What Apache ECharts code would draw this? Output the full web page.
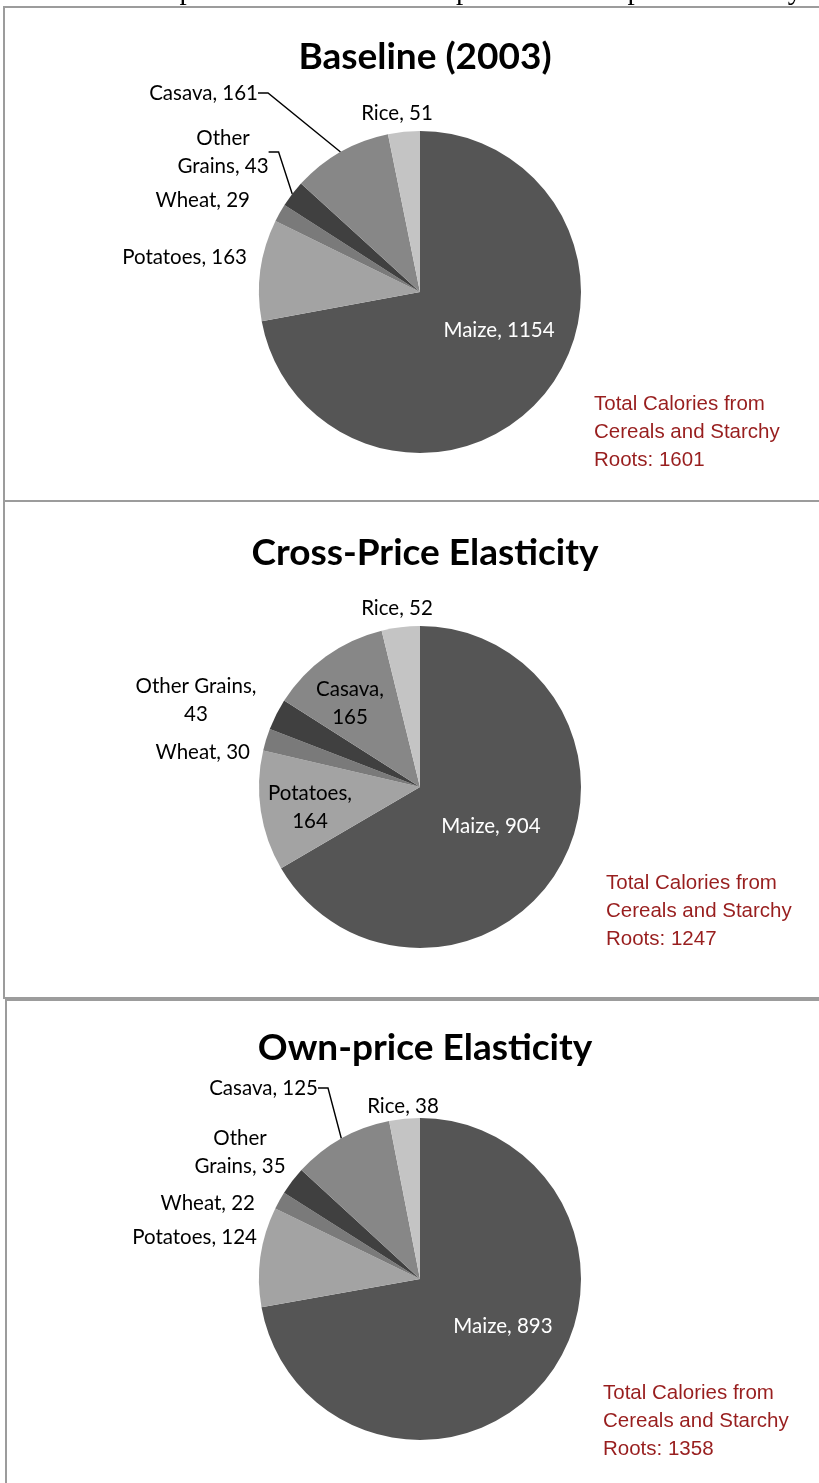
<!DOCTYPE html>
<html>
<head>
<meta charset="utf-8">
<script src="https://cdn.jsdelivr.net/npm/echarts@6/dist/echarts.min.js"></script>
<style>
  body { margin: 0; background: #fff; }
  #main { width: 819px; height: 1483px; }
</style>
</head>
<body>
<div id="main"></div>
<script>
// data
var categories = ['Maize', 'Potatoes', 'Wheat', 'Other Grains', 'Casava', 'Rice'];
var baseline = [1154, 163, 29, 43, 161, 51];
var crossPrice = [904, 164, 30, 43, 165, 52];
var ownPrice = [893, 124, 22, 35, 125, 38];
var totals = [1601, 1247, 1358];
var panelTitles = ['Baseline (2003)', 'Cross-Price Elasticity', 'Own-price Elasticity'];

var sliceColors = ['#555555', '#a3a3a3', '#7a7a7a', '#404040', '#878787', '#c4c4c4'];

// layout of the three panels
var panels = [
  { top: 7,    bottom: 501,  left: 4, cx: 420, cy: 292,  titleTop: 34,   noteLeft: 594, noteTop: 385 },
  { top: 501,  bottom: 998,  left: 4, cx: 420, cy: 787,  titleTop: 530,  noteLeft: 606, noteTop: 864 },
  { top: 1000, bottom: 1495, left: 6, cx: 420, cy: 1279, titleTop: 1025, noteLeft: 603, noteTop: 1374 }
];

// label placement relative to pie centre: [dx, dy, align, text mode, leader line]
// text mode: 'one' = "Name, v", 'split' = first word on own line, 'after' = value on next line
var labelSpots = [
  [[79, 38, 'center', 'one', false], [-173, -35, 'right', 'one', false], [-170, -92, 'right', 'one', false],
   [-197, -140, 'center', 'split', true], [-162, -199, 'right', 'one', true], [-23, -179, 'center', 'one', false]],
  [[71, 39, 'center', 'one', false], [-110, 20, 'center', 'after', false], [-170, -35, 'right', 'one', false],
   [-224, -87, 'center', 'after', false], [-70, -84, 'center', 'after', false], [-23, -179, 'center', 'one', false]],
  [[83, 47, 'center', 'one', false], [-163, -42, 'right', 'one', false], [-165, -76, 'right', 'one', false],
   [-180, -127, 'center', 'split', false], [-102, -191, 'right', 'one', true], [-17, -173, 'center', 'one', false]]
];

var values = [baseline, crossPrice, ownPrice];

function labelText(name, v, mode) {
  if (mode === 'split') return name.replace(' ', '\n') + ', ' + v;
  if (mode === 'after') return name + ',\n' + v;
  return name + ', ' + v;
}

var series = values.map(function (vals, p) {
  var pn = panels[p];
  var spots = labelSpots[p];
  return {
    type: 'pie',
    center: [pn.cx, pn.cy],
    radius: 161,
    startAngle: 90,
    clockwise: true,
    silent: true,
    animation: false,
    avoidLabelOverlap: false,
    label: {
      show: true,
      position: 'outside',
      color: '#000',
      fontFamily: 'Lato',
      fontSize: 20.5,
      lineHeight: 28,
      formatter: function (params) {
        return labelText(params.name, params.value, spots[params.dataIndex][3]);
      }
    },
    labelLine: {
      show: true,
      lineStyle: { color: '#000', width: 1.4 },
      length: 10,
      length2: 10
    },
    labelLayout: function (params) {
      var s = spots[params.dataIndex];
      return {
        x: pn.cx + s[0],
        y: pn.cy + s[1],
        align: s[2],
        verticalAlign: 'middle'
      };
    },
    data: categories.map(function (c, i) {
      var item = {
        name: c,
        value: vals[i],
        itemStyle: { color: sliceColors[i] }
      };
      if (!spots[i][4]) item.labelLine = { show: false };
      if (i === 0) item.label = { color: '#fff' };
      return item;
    })
  };
});

var titles = [{
  text: 'Cereal Consumption in Malawi: Cross-price vs. Own-price Elasticity',
  left: -5,
  top: -28,
  textStyle: { fontFamily: 'Liberation Serif', fontSize: 29, fontWeight: 'normal', color: '#000' }
}];
panels.forEach(function (pn, p) {
  titles.push({
    text: panelTitles[p],
    left: pn.cx,
    textAlign: 'center',
    top: pn.titleTop,
    textStyle: { fontFamily: 'Lato', fontSize: 37, fontWeight: 'bold', color: '#000' }
  });
  titles.push({
    text: 'Total Calories from\nCereals and Starchy\nRoots: ' + totals[p],
    left: pn.noteLeft - 5,
    top: pn.noteTop,
    textStyle: { fontFamily: 'Liberation Sans', fontSize: 20.5, fontWeight: 'normal', color: '#981e1e', lineHeight: 28 }
  });
});

var frames = panels.map(function (pn) {
  return {
    type: 'rect',
    shape: { x: pn.left, y: pn.top, width: 900, height: pn.bottom - pn.top },
    style: { fill: 'none', stroke: '#9c9c9c', lineWidth: 2 },
    silent: true
  };
});

var myChart = echarts.init(document.getElementById('main'));
myChart.setOption({
  backgroundColor: '#fff',
  animation: false,
  title: titles,
  graphic: frames,
  series: series
});
</script>
</body>
</html>
